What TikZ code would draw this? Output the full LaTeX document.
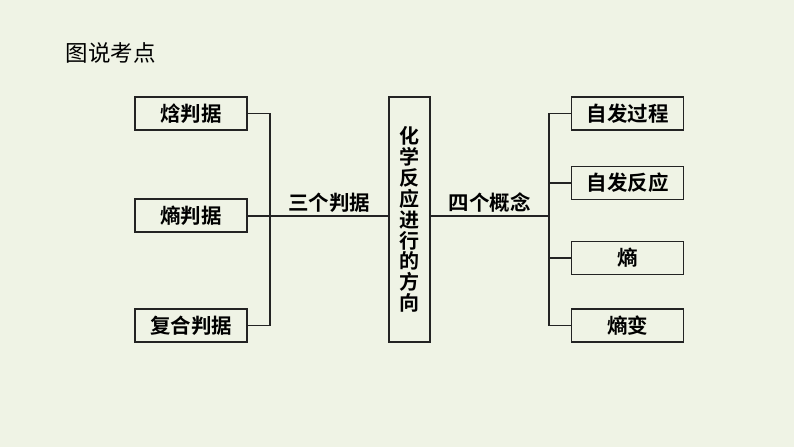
\documentclass[tikz,border=0pt]{standalone}
\usepackage{fontspec}
\newfontfamily\cjk{Noto Sans CJK SC}[BoldFont={Noto Sans CJK SC Bold}]
\usetikzlibrary{positioning}
\definecolor{bgpaper}{RGB}{239,243,229}
\definecolor{inkline}{RGB}{35,35,35}

\begin{document}
\begin{tikzpicture}[x=1pt,y=-1pt,
    kbox/.style={rectangle,draw=inkline,line width=1.4pt,fill=bgpaper,minimum width=112pt,minimum height=33pt,inner sep=0pt,font=\cjk\bfseries\fontsize{20.5}{22}\selectfont},
    link/.style={draw=inkline,line width=1.4pt},
    lbl/.style={font=\cjk\bfseries\fontsize{20.5}{22}\selectfont,inner sep=3pt}]
        % 背景
        \fill[bgpaper] (0,0) rectangle (794,447);
        \useasboundingbox (0,0) rectangle (794,447);

        % 标题
        \node[anchor=west,font=\cjk\fontsize{22.5}{24}\selectfont] (title) at (62,53) {图说考点};

        % 中间主题
        \node[kbox,minimum width=41pt,minimum height=245pt] (main) at (409.5,219.5) {};
        \node[font=\cjk\bfseries\fontsize{20}{20.9}\selectfont,align=center,inner sep=0pt] (maintxt) at (main.center) {化\\学\\反\\应\\进\\行\\的\\方\\向};

        % 三个判据
        \node[kbox] (hanpj) at (191,113.5) {焓判据};
        \node[kbox] (shangpj) at (191,215.5) {熵判据};
        \node[kbox] (fuhepj) at (191,325.5) {复合判据};

        % 四个概念
        \node[kbox] (zfgc) at (627.5,113.5) {自发过程};
        \node[kbox] (zffy) at (627.5,183) {自发反应};
        \node[kbox] (shang) at (627.5,258) {熵};
        \node[kbox] (shangbian) at (627.5,325.5) {熵变};

        % 连接左侧
        \coordinate (lj) at (270,216);
        \draw[link] (hanpj.east) -| (lj);
        \draw[link] (fuhepj.east) -| (lj);
        \draw[link] (shangpj.east |- lj) -- (lj) -- node[lbl,above] {三个判据} (main.west |- lj);

        % 连接右侧
        \coordinate (rj) at (549,216);
        \draw[link] (main.east |- rj) -- node[lbl,above] {四个概念} (rj);
        \draw[link] (zfgc.west) -| (rj);
        \draw[link] (shangbian.west) -| (rj);
        \draw[link] (zffy.west) -- (zffy.west -| rj);
        \draw[link] (shang.west) -- (shang.west -| rj);
    \end{tikzpicture}
\end{document}
